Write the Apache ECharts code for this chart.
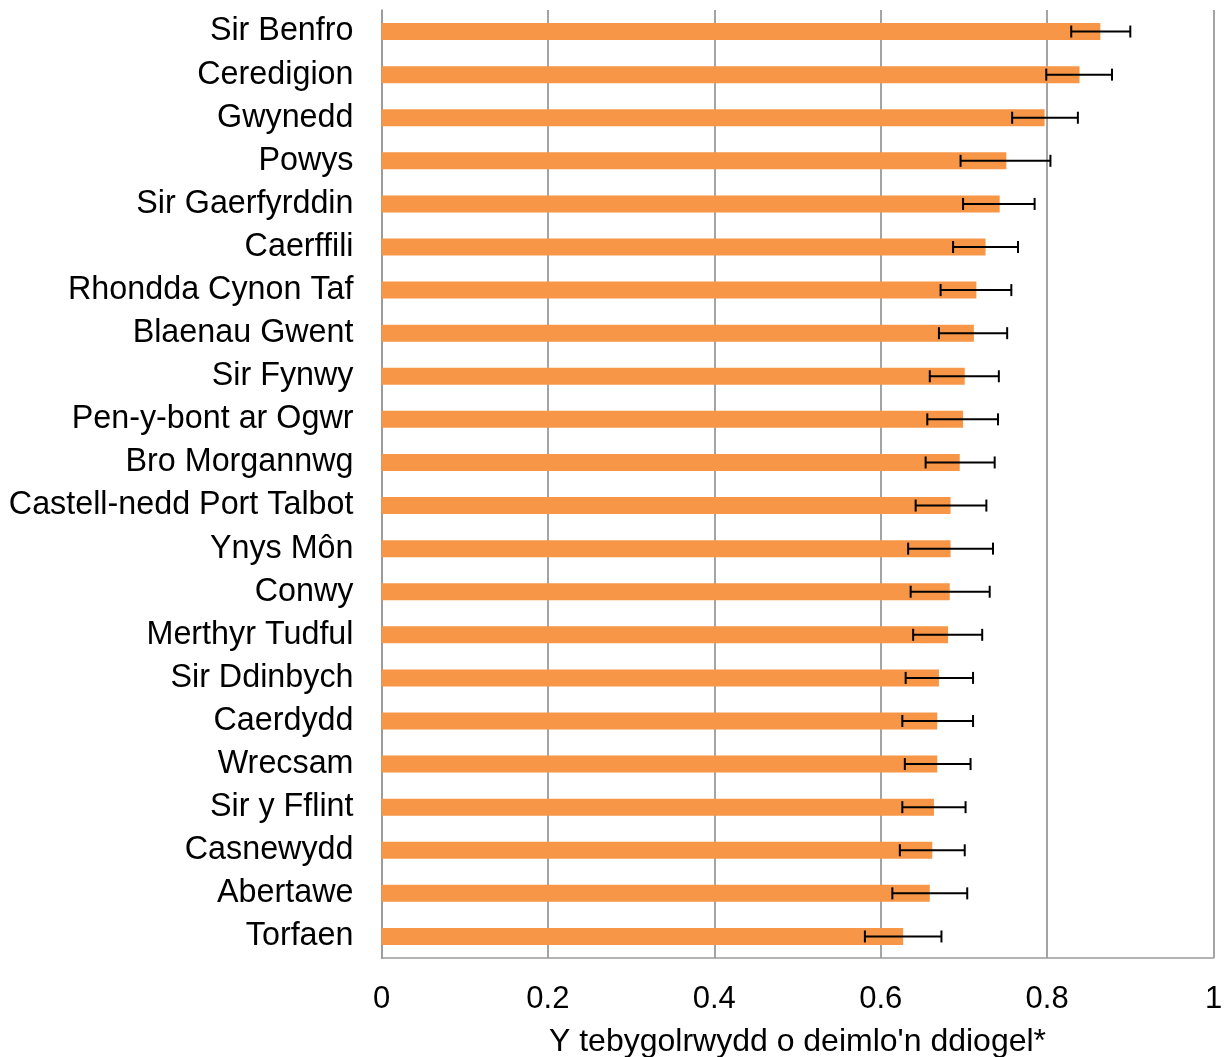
<!DOCTYPE html>
<html>
<head>
<meta charset="utf-8">
<script src="https://cdn.jsdelivr.net/npm/echarts@6/dist/echarts.min.js"></script>
<style>
  html, body { margin: 0; padding: 0; background: #fff; }
  #chart { width: 1225px; height: 1057px; }
</style>
</head>
<body>
<div id="chart"></div>
<script>
const areas = [
  "Sir Benfro", "Ceredigion", "Gwynedd", "Powys", "Sir Gaerfyrddin", "Caerffili",
  "Rhondda Cynon Taf", "Blaenau Gwent", "Sir Fynwy", "Pen-y-bont ar Ogwr",
  "Bro Morgannwg", "Castell-nedd Port Talbot", "Ynys Môn", "Conwy",
  "Merthyr Tudful", "Sir Ddinbych", "Caerdydd", "Wrecsam", "Sir y Fflint",
  "Casnewydd", "Abertawe", "Torfaen"
];
const likelihood = [0.864, 0.839, 0.797, 0.751, 0.743, 0.726, 0.715, 0.712, 0.701, 0.699,
  0.695, 0.684, 0.684, 0.683, 0.681, 0.670, 0.668, 0.668, 0.664, 0.662, 0.659, 0.627];
const lower = [0.829, 0.799, 0.758, 0.696, 0.699, 0.687, 0.672, 0.670, 0.659, 0.656,
  0.654, 0.642, 0.633, 0.636, 0.639, 0.630, 0.626, 0.629, 0.626, 0.623, 0.614, 0.581];
const upper = [0.900, 0.878, 0.837, 0.804, 0.785, 0.765, 0.757, 0.752, 0.742, 0.741,
  0.737, 0.727, 0.735, 0.731, 0.722, 0.711, 0.711, 0.708, 0.702, 0.701, 0.704, 0.673];
const xTicks = [0, 0.2, 0.4, 0.6, 0.8, 1];

const font = "'Liberation Sans', Arial, sans-serif";
const chart = echarts.init(document.getElementById("chart"));

const errData = areas.map((a, i) => [i, lower[i], upper[i]]);

chart.setOption({
  animation: false,
  grid: { left: 381.5, right: 11.5, top: 10, bottom: 99, containLabel: false, outerBoundsMode: "none" },
  xAxis: {
    type: "value",
    min: 0,
    max: 1,
    interval: 0.2,
    name: "Y tebygolrwydd o deimlo'n ddiogel*",
    nameLocation: "middle",
    nameGap: 68,
    nameTextStyle: { fontFamily: font, fontSize: 32, color: "#000" },
    axisLine: { show: true, lineStyle: { color: "#9a9a9a", width: 1.5 } },
    axisTick: { show: false },
    axisLabel: {
      margin: 26,
      fontFamily: font,
      fontSize: 31,
      color: "#000",
      formatter: v => xTicks.includes(+v.toFixed(1)) ? String(+v.toFixed(1)) : ""
    },
    splitLine: { show: true, lineStyle: { color: "#868686", width: 1.5 } }
  },
  yAxis: {
    type: "category",
    data: areas,
    inverse: true,
    axisLine: { show: true, lineStyle: { color: "#9a9a9a", width: 1.5 } },
    axisTick: { show: false },
    axisLabel: { margin: 28, fontFamily: font, fontSize: 32.3, color: "#000", padding: [4, 0, 0, 0] },
    splitLine: { show: false }
  },
  series: [
    {
      type: "bar",
      data: likelihood,
      barWidth: 17,
      itemStyle: { color: "#F79646" }
    },
    {
      type: "custom",
      data: errData,
      encode: { y: 0, x: [1, 2] },
      z: 10,
      renderItem: function (params, api) {
        const cat = api.value(0);
        const p1 = api.coord([api.value(1), cat]);
        const p2 = api.coord([api.value(2), cat]);
        const h = 6;
        const style = { stroke: "#000", lineWidth: 2 };
        return {
          type: "group",
          children: [
            { type: "line", shape: { x1: p1[0], y1: p1[1], x2: p2[0], y2: p2[1] }, style: style },
            { type: "line", shape: { x1: p1[0], y1: p1[1] - h, x2: p1[0], y2: p1[1] + h }, style: style },
            { type: "line", shape: { x1: p2[0], y1: p2[1] - h, x2: p2[0], y2: p2[1] + h }, style: style }
          ]
        };
      }
    }
  ]
});
</script>
</body>
</html>
